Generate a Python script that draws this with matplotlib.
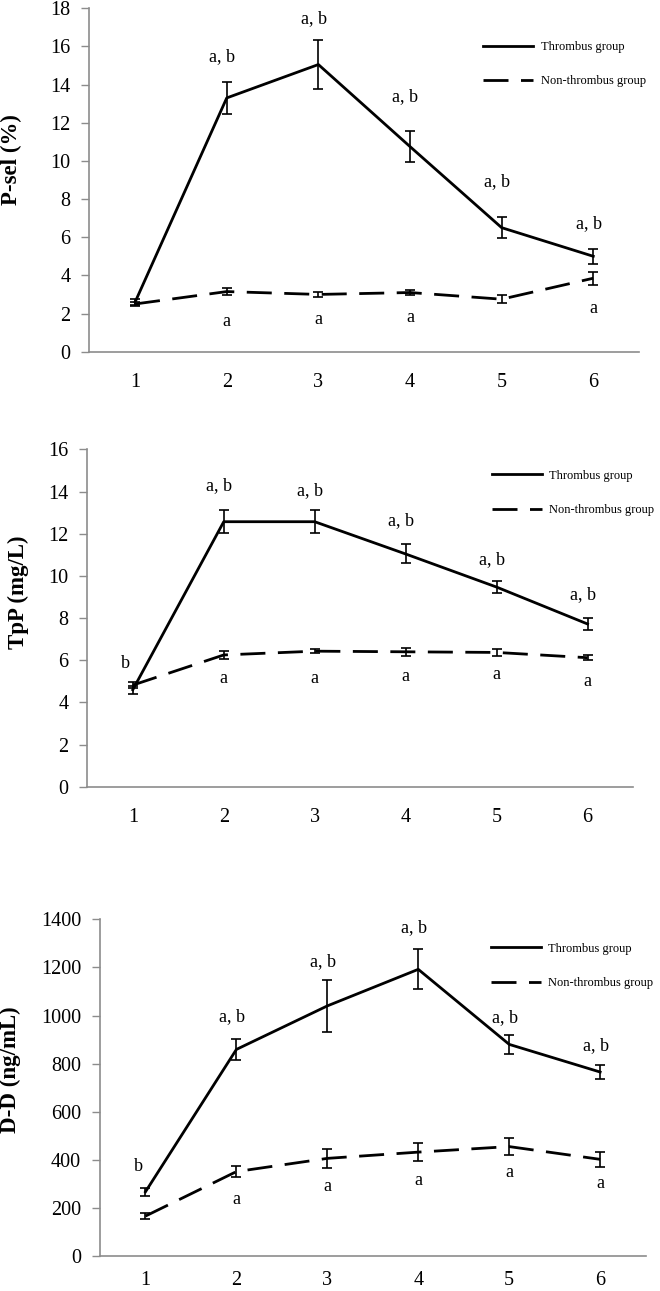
import matplotlib
matplotlib.use("Agg")
import matplotlib.pyplot as plt
import numpy as np

plt.rcParams['font.family'] = ['Liberation Serif', 'DejaVu Serif']

x = [1, 2, 3, 4, 5, 6]
xlabels = ["1", "2", "3", "4", "5", "6"]

# P-selectin (%)
psel_thr = [2.6, 13.3, 15.05, 10.75, 6.5, 5.0]
psel_thr_err = [0.15, 0.85, 1.3, 0.8, 0.55, 0.4]
psel_non = [2.5, 3.15, 3.0, 3.1, 2.75, 3.85]
psel_non_err = [0.12, 0.2, 0.15, 0.15, 0.2, 0.35]
psel_ab_y = [None, 15.46, 17.44, 13.37, 8.91, 6.73]
psel_a_y = [None, 1.57, 1.67, 1.8, None, 2.27]
psel_b1_y = None

# TpP (mg/L)
tpp_thr = [4.6, 12.57, 12.57, 11.04, 9.47, 7.72]
tpp_thr_err = [0.2, 0.55, 0.55, 0.45, 0.3, 0.28]
tpp_non = [4.82, 6.25, 6.43, 6.4, 6.37, 6.12]
tpp_non_err = [0.15, 0.2, 0.1, 0.18, 0.17, 0.13]
tpp_ab_y = [None, 14.26, 14.04, 12.6, 10.75, 9.1]
tpp_a_y = [None, 5.14, 5.14, 5.25, 5.33, 5.0]
tpp_b1_y = 5.85

# D-dimer (ng/mL)
dd_thr = [267, 859, 1040, 1192, 880, 765]
dd_thr_err = [16, 44, 108, 83, 39, 28]
dd_non = [166, 351, 406, 432, 455, 402]
dd_non_err = [14, 23, 41, 39, 36, 30]
dd_ab_y = [None, 995, 1224, 1365, 993, 873]
dd_a_y = [None, 236, 291, 312, 349, 302]
dd_b1_y = 374

panels = [
    dict(thr=psel_thr, thr_err=psel_thr_err, non=psel_non, non_err=psel_non_err,
         ab=psel_ab_y, a=psel_a_y, b1=psel_b1_y, ylabel="P-sel (%)",
         ymax=18, ystep=2, rect=[0.1353, 0.7276, 0.833, 0.266],
         lab=(-0.123, 0.558), leg=(0.7166, 0.905), xpad=15),
    dict(thr=tpp_thr, thr_err=tpp_thr_err, non=tpp_non, non_err=tpp_non_err,
         ab=tpp_ab_y, a=tpp_a_y, b1=tpp_b1_y, ylabel="TpP (mg/L)",
         ymax=16, ystep=2, rect=[0.1323, 0.3906, 0.8268, 0.2613],
         lab=(-0.106, 0.578), leg=(0.741, 0.94), xpad=15),
    dict(thr=dd_thr, thr_err=dd_thr_err, non=dd_non, non_err=dd_non_err,
         ab=dd_ab_y, a=dd_a_y, b1=dd_b1_y, ylabel="D-D (ng/mL)",
         ymax=1400, ystep=200, rect=[0.1515, 0.0271, 0.8267, 0.2608],
         lab=(-0.145, 0.552), leg=(0.716, 0.931), xpad=11),
]

fig = plt.figure(figsize=(6.6, 12.91), dpi=100)
grey = "#8c8c8c"
dash = (0, (9, 4.5))

for p in panels:
    ax = fig.add_axes(p["rect"])
    ax.plot(x, p["thr"], color="black", lw=2, label="Thrombus group")
    ax.plot(x, p["non"], color="black", lw=2, linestyle=dash, label="Non-thrombus group")
    ax.errorbar(x, p["thr"], yerr=p["thr_err"], fmt="none", ecolor="black",
                elinewidth=1.2, capsize=3.3, capthick=1.2)
    ax.errorbar(x, p["non"], yerr=p["non_err"], fmt="none", ecolor="black",
                elinewidth=1.2, capsize=3.3, capthick=1.2)

    for xi, yv in zip(x, p["ab"]):
        if yv is not None:
            ax.text(xi - 0.05, yv, "a, b", ha="center", va="center", fontsize=13)
    for xi, yv in zip(x, p["a"]):
        if yv is not None:
            ax.text(xi, yv, "a", ha="center", va="center", fontsize=13)
    if p["b1"] is not None:
        ax.text(0.92, p["b1"], "b", ha="center", va="center", fontsize=13)

    ax.set_xlim(0.5, 6.5)
    ax.set_ylim(0, p["ymax"])
    ax.set_yticks(np.arange(0, p["ymax"] + p["ystep"] / 2, p["ystep"]))
    ax.set_xticks(x)
    ax.set_xticklabels(xlabels)
    ax.tick_params(axis="y", length=5.5, width=1, color=grey, pad=8, labelsize=14.5)
    ax.tick_params(axis="x", length=0, pad=p["xpad"], labelsize=14.5)
    for s in ["top", "right"]:
        ax.spines[s].set_visible(False)
    for s in ["left", "bottom"]:
        ax.spines[s].set_color(grey)
        ax.spines[s].set_linewidth(1.2)

    ax.set_ylabel(p["ylabel"], fontsize=16.5, fontweight="bold")
    ax.yaxis.set_label_coords(*p["lab"])

    ax.legend(loc="upper left", bbox_to_anchor=p["leg"], frameon=False,
              fontsize=9, handlelength=4.0, handletextpad=0.6,
              labelspacing=1.8, borderpad=0, borderaxespad=0)

fig.savefig("out.png", dpi=100)
